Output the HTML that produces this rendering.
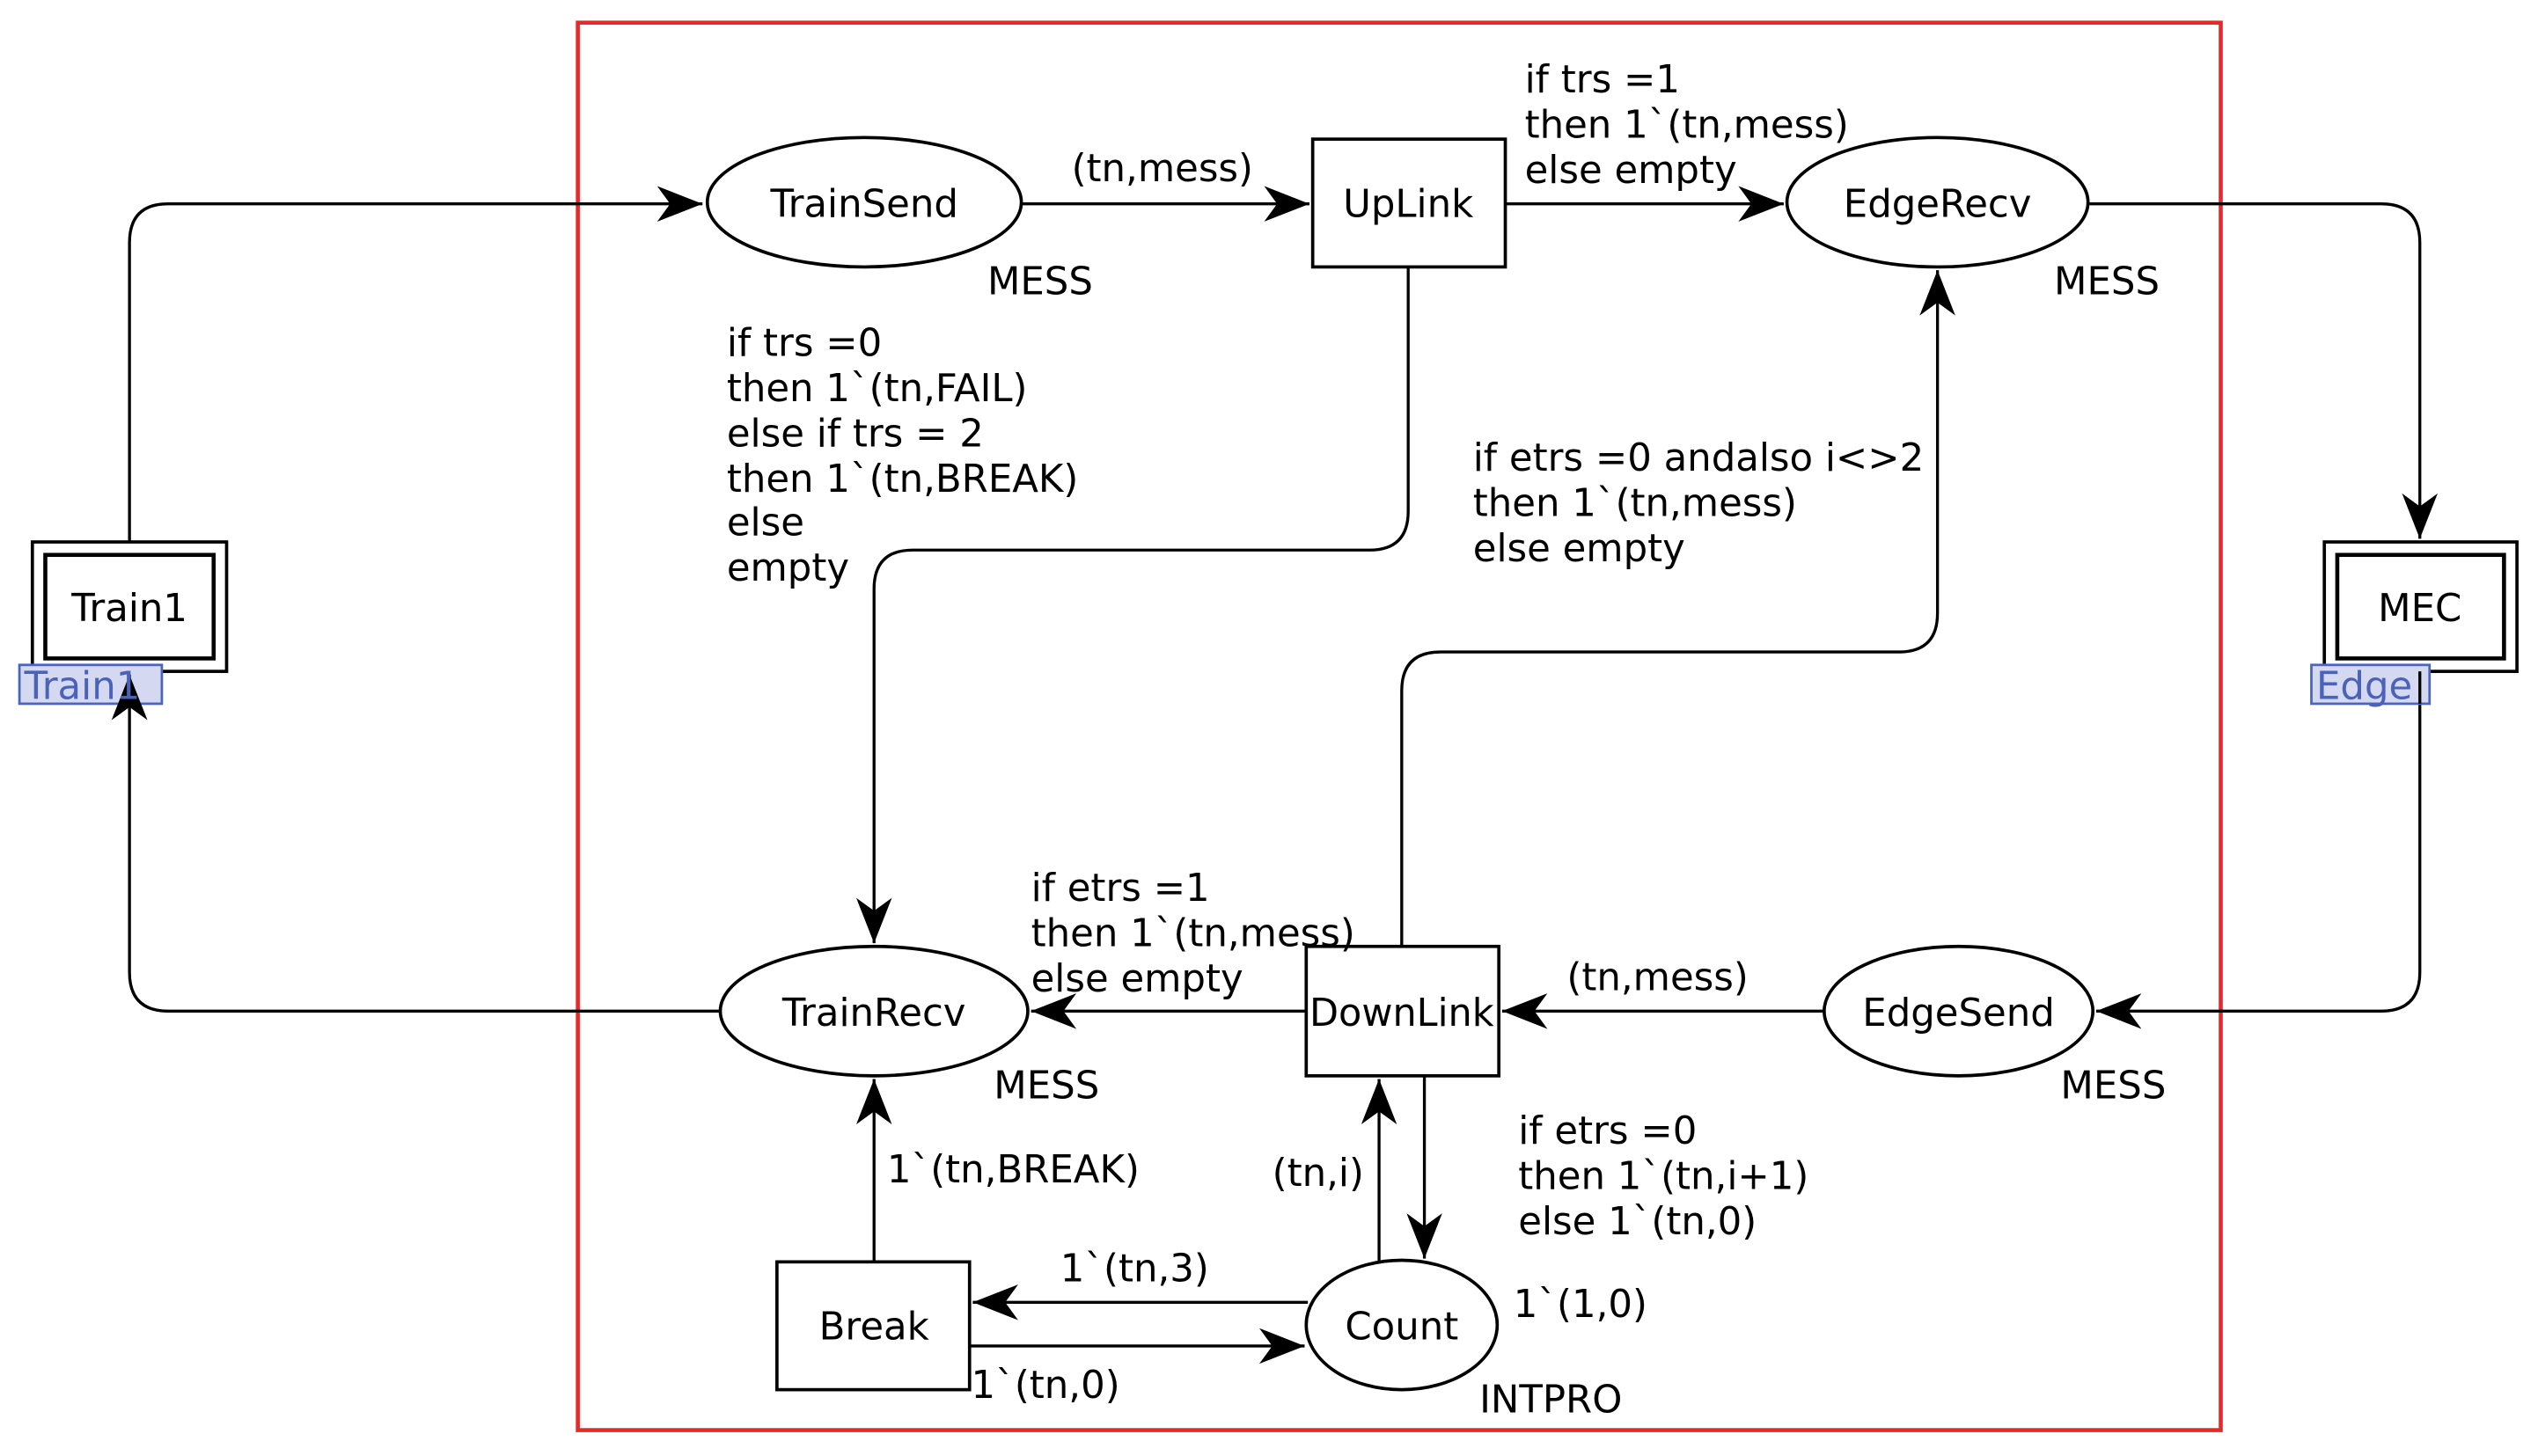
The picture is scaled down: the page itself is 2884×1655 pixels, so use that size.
<!DOCTYPE html>
<html><head><meta charset="utf-8"><style>
html,body{margin:0;padding:0;background:#fff}
svg{display:block}
text{font-family:"DejaVu Sans","Liberation Sans",sans-serif;font-size:23.6px;fill:#000}
</style></head><body>
<svg width="2884" height="1655" viewBox="0 0 1568 900" preserveAspectRatio="none" xmlns="http://www.w3.org/2000/svg">
<defs>
<marker id="a" markerUnits="userSpaceOnUse" markerWidth="32" markerHeight="32" refX="28" refY="11" orient="auto">
<path d="M0,0 L28,11 L0,22 L8,11 z" fill="#000"/>
</marker>
</defs>
<rect x="357" y="14" width="1015" height="870" fill="none" stroke="#e8292c" stroke-width="2.5"/>
<g fill="none" stroke="#000" stroke-width="1.8">
<path d="M80,335 V150 Q80,126 104,126 H434" marker-end="url(#a)"/>
<path d="M631,126 H809" marker-end="url(#a)"/>
<path d="M930,126 H1102" marker-end="url(#a)"/>
<path d="M1291,126 H1471 Q1495,126 1495,150 V333" marker-end="url(#a)"/>
<path d="M1495,435 V601 Q1495,625 1471,625 H1295" marker-end="url(#a)"/>
<path d="M1127,625 H928" marker-end="url(#a)"/>
<path d="M807,625 H637" marker-end="url(#a)"/>
<path d="M445,625 H104 Q80,625 80,601 V417" marker-end="url(#a)"/>
<path d="M870,165 V316 Q870,340 846,340 H564 Q540,340 540,364 V583" marker-end="url(#a)"/>
<path d="M866,585 V427 Q866,403 890,403 H1173 Q1197,403 1197,379 V167" marker-end="url(#a)"/>
<path d="M540,780 V667" marker-end="url(#a)"/>
<path d="M808,805 H601" marker-end="url(#a)"/>
<path d="M599,832 H806" marker-end="url(#a)"/>
<path d="M852,780 V667" marker-end="url(#a)"/>
<path d="M880,665 V778" marker-end="url(#a)"/>
</g>
<g fill="#fff" stroke="#000" stroke-width="2">
<ellipse cx="534" cy="125" rx="97" ry="40"/>
<ellipse cx="1197" cy="125" rx="93" ry="40"/>
<ellipse cx="540" cy="625" rx="95" ry="40"/>
<ellipse cx="1210" cy="625" rx="83" ry="40"/>
<ellipse cx="866" cy="819" rx="59" ry="40"/>
<rect x="811" y="86" width="119" height="79"/>
<rect x="807" y="585" width="119" height="80"/>
<rect x="480" y="780" width="119" height="79"/>
<rect x="20" y="335" width="120" height="80"/>
<rect x="28" y="343" width="104" height="64" stroke-width="2.5"/>
<rect x="1436" y="335" width="119" height="80"/>
<rect x="1444" y="343" width="103" height="64" stroke-width="2.5"/>
</g>
<rect x="12" y="411" width="88" height="24" fill="#d4d8f0" stroke="#4a66bb" stroke-width="1.5"/>
<rect x="1428" y="411" width="73" height="24" fill="#d4d8f0" stroke="#4a66bb" stroke-width="1.5"/>
<path d="M80,435 V417" stroke="#000" stroke-width="1.8" marker-end="url(#a)"/>
<path d="M1495,415 V435" stroke="#000" stroke-width="1.8"/>
<g text-anchor="middle">
<text x="534" y="134">TrainSend</text>
<text x="870" y="134">UpLink</text>
<text x="1197" y="134">EdgeRecv</text>
<text x="540" y="634">TrainRecv</text>
<text x="866" y="634" textLength="114" lengthAdjust="spacingAndGlyphs">DownLink</text>
<text x="1210" y="634">EdgeSend</text>
<text x="866" y="828">Count</text>
<text x="540" y="828">Break</text>
<text x="80" y="384">Train1</text>
<text x="1495" y="384">MEC</text>
</g>
<text x="15" y="432" style="fill:#4a62b8">Train1</text>
<text x="1431" y="432" style="fill:#4a62b8">Edge</text>
<text x="610" y="182">MESS</text>
<text x="1269" y="182">MESS</text>
<text x="614" y="679">MESS</text>
<text x="1273" y="679">MESS</text>
<text x="914" y="873">INTPRO</text>
<text x="662" y="112">(tn,mess)</text>
<text x="968" y="612">(tn,mess)</text>
<text x="942" y="57">if trs =1</text>
<text x="942" y="85">then 1`(tn,mess)</text>
<text x="942" y="113">else empty</text>
<text x="449" y="220">if trs =0</text>
<text x="449" y="248">then 1`(tn,FAIL)</text>
<text x="449" y="276">else if trs = 2</text>
<text x="449" y="304">then 1`(tn,BREAK)</text>
<text x="449" y="331">else</text>
<text x="449" y="359">empty</text>
<text x="910" y="291">if etrs =0 andalso i&lt;&gt;2</text>
<text x="910" y="319">then 1`(tn,mess)</text>
<text x="910" y="347">else empty</text>
<text x="637" y="557">if etrs =1</text>
<text x="637" y="585">then 1`(tn,mess)</text>
<text x="637" y="613">else empty</text>
<text x="548" y="731">1`(tn,BREAK)</text>
<text x="786" y="733">(tn,i)</text>
<text x="938" y="707">if etrs =0</text>
<text x="938" y="735">then 1`(tn,i+1)</text>
<text x="938" y="763">else 1`(tn,0)</text>
<text x="655" y="792">1`(tn,3)</text>
<text x="600" y="864">1`(tn,0)</text>
<text x="935" y="814">1`(1,0)</text>
</svg>
</body></html>
